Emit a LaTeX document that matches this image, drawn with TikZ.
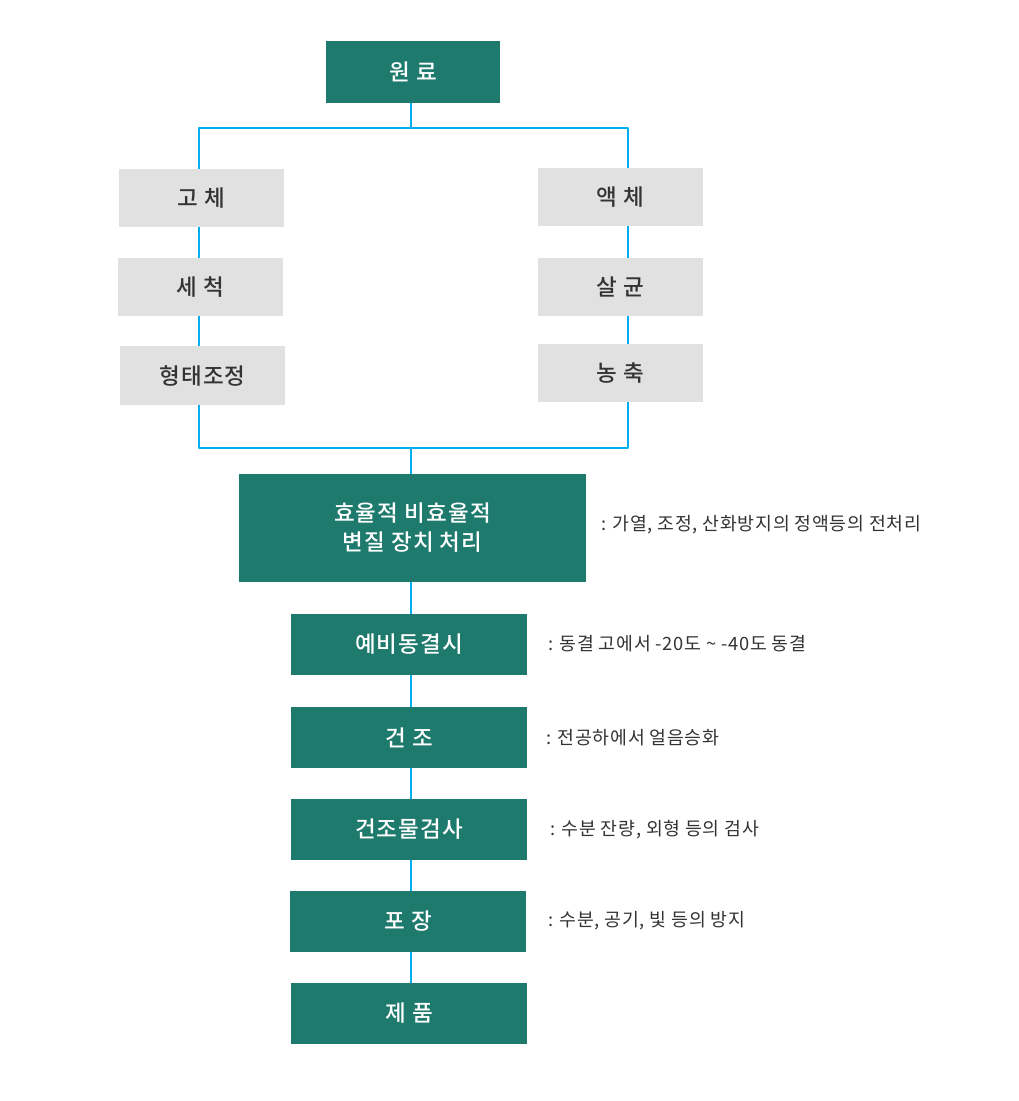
\documentclass[tikz,border=0pt]{standalone}
\usepackage{fontspec}
\newfontfamily\krw{Noto Sans CJK KR}[LetterSpace=4]
\newfontfamily\krmw{Noto Sans CJK KR Medium}[LetterSpace=5]
\definecolor{teal}{RGB}{31,122,110}
\definecolor{gbox}{RGB}{225,225,225}
\definecolor{bline}{RGB}{0,174,239}
\definecolor{txt}{RGB}{51,51,51}
\begin{document}
\begin{tikzpicture}[x=1pt,y=-1pt,
  gbx/.style={fill=teal,draw=none,text=white,font=\krmw\fontsize{22.5}{29}\selectfont,align=center,inner sep=0pt},
  grx/.style={fill=gbox,draw=none,text=txt,font=\krmw\fontsize{22.5}{26}\selectfont,inner sep=0pt},
  note/.style={anchor=west,text=txt,font=\krw\fontsize{18.3}{20}\selectfont,inner sep=0pt},
  link/.style={draw=bline,line width=1.6pt}]
\useasboundingbox (0,0) rectangle (1018,1101);
\fill[white] (0,0) rectangle (1018,1101);
% boxes
\node[gbx,minimum width=174pt,minimum height=62pt] (raw) at (413,72) {원 료};
\node[grx,minimum width=165pt,minimum height=58pt] (solid) at (201.5,198) {고 체};
\node[grx,minimum width=165pt,minimum height=58pt] (wash) at (200.5,287) {세 척};
\node[grx,minimum width=165pt,minimum height=59pt] (shape) at (202.5,375.5) {형태조정};
\node[grx,minimum width=165pt,minimum height=58pt] (liquid) at (620.5,197) {액 체};
\node[grx,minimum width=165pt,minimum height=58pt] (steril) at (620.5,287) {살 균};
\node[grx,minimum width=165pt,minimum height=58pt] (conc) at (620.5,373) {농 축};
\node[gbx,minimum width=347pt,minimum height=108pt] (pre) at (412.5,528) {효율적 비효율적\\변질 장치 처리};
\node[gbx,minimum width=236pt,minimum height=61pt] (prefz) at (409,644.5) {예비동결시};
\node[gbx,minimum width=236pt,minimum height=61pt] (dry) at (409,737.5) {건 조};
\node[gbx,minimum width=236pt,minimum height=61pt] (insp) at (409,829.5) {건조물검사};
\node[gbx,minimum width=236pt,minimum height=61pt] (pack) at (408,921.5) {포 장};
\node[gbx,minimum width=236pt,minimum height=61pt] (prod) at (409,1013.5) {제 품};
% bus coordinates
\coordinate (tb) at (411,128);
\coordinate (tl) at (199,128);
\coordinate (tr) at (628,128);
\coordinate (bb) at (411,448);
\coordinate (bl) at (199,448);
\coordinate (br) at (628,448);
% connectors
\draw[link] (raw.south -| tb) -- (tb);
\draw[link,line join=round] (solid.north -| tl) -- (tl) -- (tr) -- (liquid.north -| tr);
\draw[link] (solid.south -| tl) -- (wash.north -| tl);
\draw[link] (wash.south -| tl) -- (shape.north -| tl);
\draw[link] (liquid.south -| tr) -- (steril.north -| tr);
\draw[link] (steril.south -| tr) -- (conc.north -| tr);
\draw[link,line join=round] (shape.south -| bl) -- (bl) -- (br) -- (conc.south -| br);
\draw[link] (bb) -- (pre.north -| bb);
\draw[link] (pre.south -| bb) -- (prefz.north -| bb);
\draw[link] (prefz.south -| bb) -- (dry.north -| bb);
\draw[link] (dry.south -| bb) -- (insp.north -| bb);
\draw[link] (insp.south -| bb) -- (pack.north -| bb);
\draw[link] (pack.south -| bb) -- (prod.north -| bb);
% notes
\node[note] (n1) at (601,525) {: 가열, 조정, 산화방지의 정액등의 전처리};
\node[note] (n2) at (548,644) {: 동결 고에서 -20도 \textasciitilde{} -40도 동결};
\node[note] (n3) at (546,738) {: 전공하에서 얼음승화};
\node[note] (n4) at (550,830) {: 수분 잔량, 외형 등의 검사};
\node[note] (n5) at (548,921) {: 수분, 공기, 빛 등의 방지};
\end{tikzpicture}
\end{document}
